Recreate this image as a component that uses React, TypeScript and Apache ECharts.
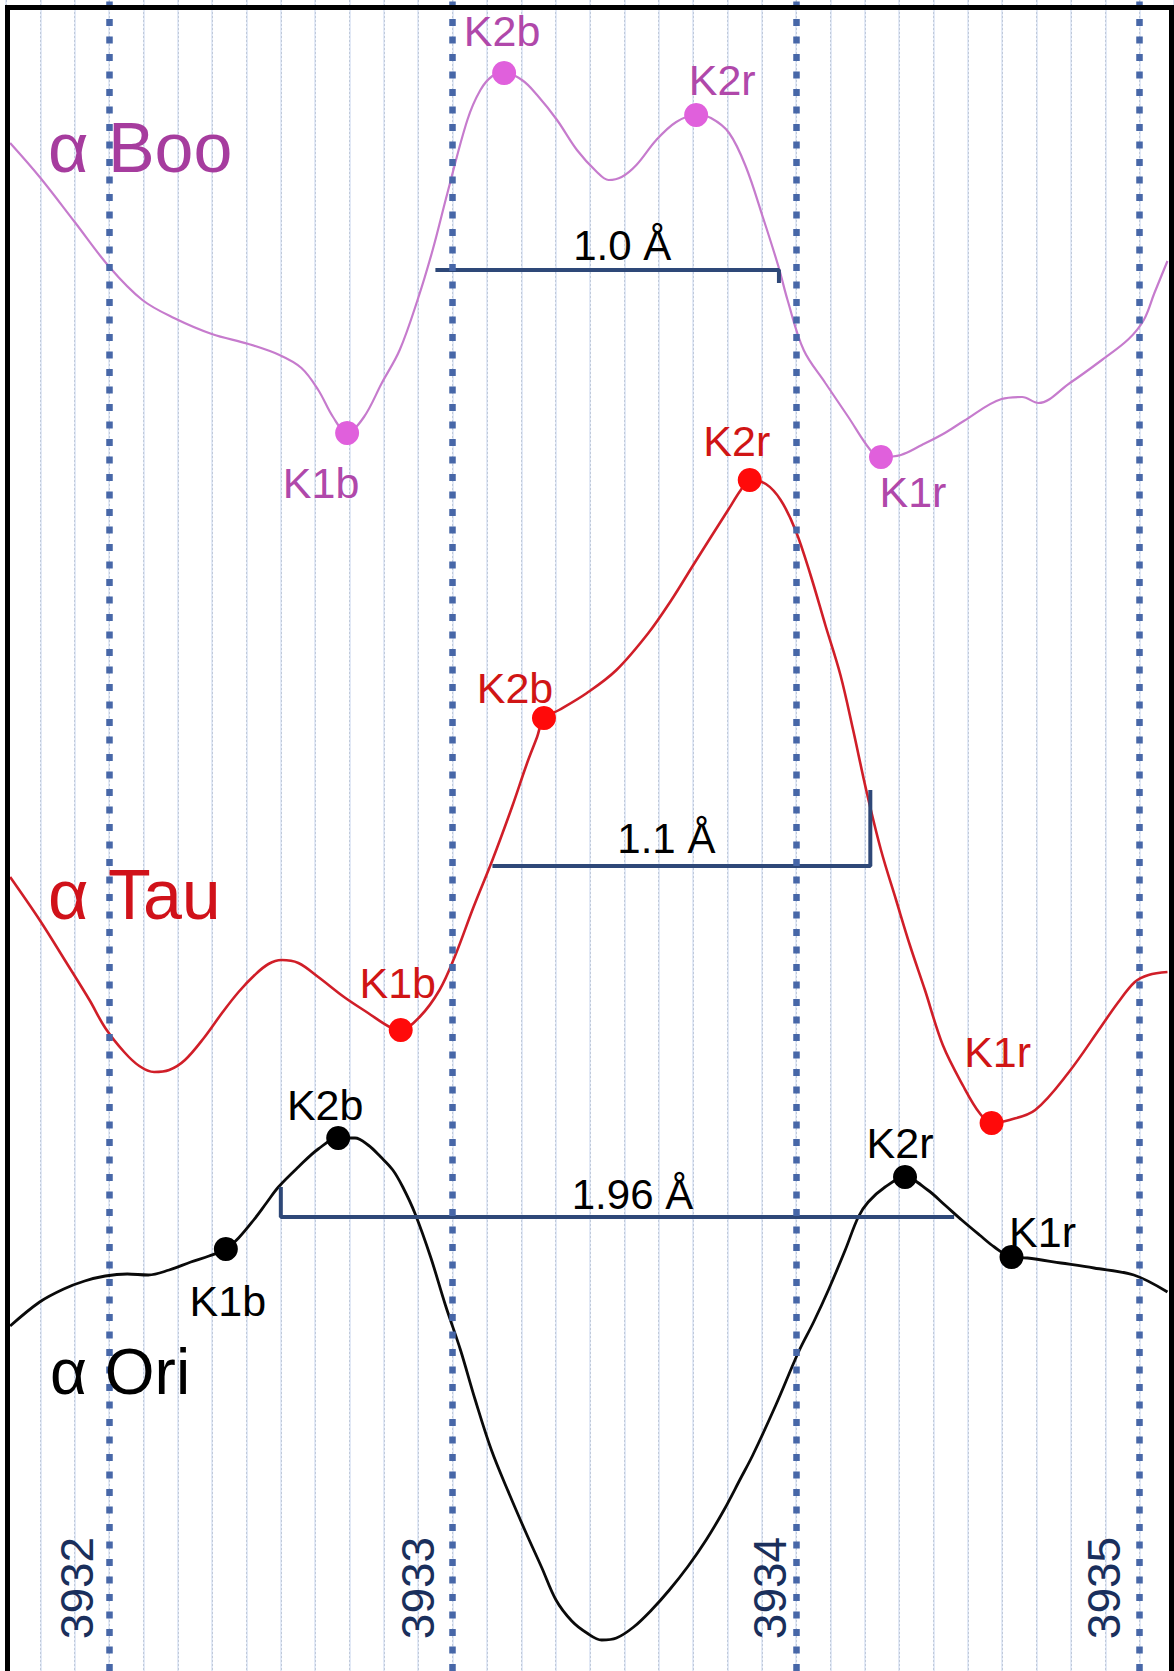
import { useEffect, useRef } from 'react';
import * as echarts from 'echarts';

// ---- Wavelength axis (Å) ----
const LAMBDA_MIN = 3931.7;
const LAMBDA_MAX = 3935.1;
const wavelengthTicks = [3932, 3933, 3934, 3935];
const TICK_LABEL_LEVEL = 8.3;

// ---- Ca II K profiles, relative flux (arbitrary units, stacked with offsets) ----
const booProfile: [number, number][] = [
  [3931.712, 152.8], [3931.798, 149.4], [3931.9, 144.9], [3932.001, 140.4], [3932.097, 137.1],
  [3932.189, 135.3], [3932.299, 133.7], [3932.406, 132.7], [3932.496, 131.6], [3932.56, 130.3],
  [3932.609, 128.1], [3932.652, 125.4], [3932.742, 125.4], [3932.794, 128.8], [3932.846, 132.1],
  [3932.898, 137.1], [3932.942, 142.1], [3932.985, 147.8], [3933.043, 155.1], [3933.081, 158.1],
  [3933.116, 159.5], [3933.202, 159.1], [3933.246, 157.6], [3933.304, 155.1], [3933.362, 152.1],
  [3933.42, 149.9], [3933.454, 149.1], [3933.492, 149.4], [3933.535, 150.6], [3933.593, 153.1],
  [3933.651, 154.9], [3933.752, 155.3], [3933.805, 153.8], [3933.854, 150.4], [3933.903, 145.4],
  [3933.949, 140.4], [3933.975, 137.1], [3934.022, 132.1], [3934.085, 128.8], [3934.152, 125.4],
  [3934.216, 122.1], [3934.305, 121.6], [3934.366, 122.6], [3934.433, 123.8], [3934.488, 125.0],
  [3934.598, 127.2], [3934.658, 127.4], [3934.705, 126.8], [3934.797, 128.8], [3934.89, 131.1],
  [3934.968, 133.2], [3935.012, 135.1], [3935.043, 137.8], [3935.081, 141.0],
];

const tauProfile: [number, number][] = [
  [3931.712, 79.4], [3931.798, 75.1], [3931.871, 71.1], [3931.943, 67.1], [3931.989, 64.3],
  [3932.044, 61.9], [3932.088, 60.5], [3932.131, 59.9], [3932.175, 60.1], [3932.221, 61.1],
  [3932.276, 63.3], [3932.331, 65.9], [3932.377, 67.9], [3932.424, 69.6], [3932.464, 70.7],
  [3932.502, 71.1], [3932.551, 70.8], [3932.609, 69.4], [3932.684, 67.4], [3932.754, 65.8],
  [3932.817, 64.4], [3932.904, 65.4], [3932.962, 68.1], [3933.006, 71.4], [3933.061, 76.4],
  [3933.116, 81.1], [3933.173, 86.4], [3933.217, 90.8], [3933.246, 93.4], [3933.31, 96.1],
  [3933.391, 97.8], [3933.477, 100.1], [3933.57, 103.8], [3933.637, 107.1], [3933.697, 110.4],
  [3933.752, 113.4], [3933.802, 116.1], [3933.839, 118.1], [3933.912, 118.7], [3933.955, 117.1],
  [3933.998, 114.1], [3934.042, 109.6], [3934.085, 104.6], [3934.129, 99.6], [3934.166, 94.1],
  [3934.204, 88.1], [3934.247, 82.1], [3934.291, 77.1], [3934.331, 72.6], [3934.375, 68.1],
  [3934.427, 62.6], [3934.488, 58.4], [3934.534, 55.8], [3934.621, 55.1], [3934.696, 56.1],
  [3934.792, 59.8], [3934.887, 64.4], [3934.936, 66.8], [3934.986, 68.9], [3935.026, 69.6],
  [3935.081, 69.9],
];

const oriProfile: [number, number][] = [
  [3931.712, 34.5], [3931.798, 36.9], [3931.868, 38.2], [3931.929, 39.0], [3931.989, 39.5],
  [3932.053, 39.7], [3932.114, 39.6], [3932.175, 40.1], [3932.238, 40.9], [3932.291, 41.5],
  [3932.377, 43.3], [3932.421, 45.1], [3932.458, 46.8], [3932.493, 48.4], [3932.551, 50.4],
  [3932.609, 52.2], [3932.716, 53.3], [3932.754, 52.6], [3932.791, 51.4], [3932.826, 50.1],
  [3932.855, 48.4], [3932.89, 45.8], [3932.936, 41.4], [3932.979, 36.6], [3933.023, 32.1],
  [3933.066, 27.1], [3933.113, 22.1], [3933.165, 17.7], [3933.214, 13.8], [3933.26, 10.3],
  [3933.301, 7.1], [3933.347, 5.0], [3933.391, 3.8], [3933.434, 3.1], [3933.477, 3.3],
  [3933.527, 4.4], [3933.579, 6.1], [3933.631, 8.1], [3933.686, 10.5], [3933.738, 13.1],
  [3933.79, 16.1], [3933.839, 19.3], [3933.874, 21.6], [3933.941, 26.6], [3934.007, 31.9],
  [3934.051, 34.9], [3934.094, 38.1], [3934.143, 42.1], [3934.181, 45.4], [3934.21, 46.9],
  [3934.259, 48.4], [3934.383, 48.1], [3934.433, 46.6], [3934.482, 45.1], [3934.534, 43.6],
  [3934.577, 42.4], [3934.673, 41.3], [3934.771, 40.8], [3934.867, 40.3], [3934.983, 39.6],
  [3935.081, 37.9],
];

// ---- K1 / K2 features: [name, wavelength, flux] ----
const booFeatures: [string, number, number][] = [
  ['K1b', 3932.693, 123.8], ['K2b', 3933.15, 159.8], ['K2r', 3933.709, 155.6], ['K1r', 3934.247, 121.4],
];
const tauFeatures: [string, number, number][] = [
  ['K1b', 3932.849, 64.1], ['K2b', 3933.266, 95.3], ['K2r', 3933.865, 119.1], ['K1r', 3934.569, 54.8],
];
const oriFeatures: [string, number, number][] = [
  ['K1b', 3932.34, 42.2], ['K2b', 3932.667, 53.3], ['K2r', 3934.317, 49.4], ['K1r', 3934.627, 41.4],
];

// ---- Measured separations (Å) ----
const booSeparation = { start: 3932.95, width: 1.0, level: 140.1, tickAt: 'end', tickTo: 138.8, digits: 1 };
const tauSeparation = { start: 3933.116, width: 1.1, level: 80.5, tickAt: 'end', tickTo: 88.1, digits: 1 };
const oriSeparation = { start: 3932.5, width: 1.96, level: 45.4, tickAt: 'start', tickTo: 48.4, digits: 2 };

// ---- Styling ----
const FONT = "'Liberation Sans', Arial, sans-serif";

// horizontal shift (px) of each rotated wavelength label, left of its guide line
const tickLabelShift = [-32, -35, -26, -36];

const labelOffsets: Record<string, Record<string, [number, number]>> = {
  boo: { K1b: [-26, 50], K2b: [-2, -42], K2r: [26, -35], K1r: [32, 35] },
  tau: { K1b: [-3, -47], K2b: [-29, -30], K2r: [-13, -39], K1r: [6, -71] },
  ori: { K1b: [2, 52], K2b: [-13, -33], K2r: [-5, -34], K1r: [31, -25] },
};

const starStyles = {
  boo: { title: 'α Boo', line: '#C67BCD', lineWidth: 2.2, dot: '#E060DC', text: '#B048AA', titleColor: '#A63C9E', titleX: 48, titleY: 148, titleSize: 70 },
  tau: { title: 'α Tau', line: '#D01E28', lineWidth: 2.6, dot: '#FF0A0A', text: '#D01515', titleColor: '#D0121A', titleX: 48, titleY: 895, titleSize: 70 },
  ori: { title: 'α Ori', line: '#0A0A0A', lineWidth: 2.8, dot: '#000000', text: '#000000', titleColor: '#000000', titleX: 50, titleY: 1372, titleSize: 64 },
};

const separationLabelOffsets: Record<string, [number, number]> = {
  boo: [15, -25],
  tau: [-15, -28],
  ori: [15, -23],
};

type Sep = typeof booSeparation;

const stars = [
  { key: 'boo', profile: booProfile, features: booFeatures, sep: booSeparation as Sep },
  { key: 'tau', profile: tauProfile, features: tauFeatures, sep: tauSeparation as Sep },
  { key: 'ori', profile: oriProfile, features: oriFeatures, sep: oriSeparation as Sep },
];

function mergeProfile(profile: [number, number][], features: [string, number, number][]) {
  const pts: [number, number][] = [...profile, ...features.map((f) => [f[1], f[2]] as [number, number])];
  return pts.sort((a, b) => a[0] - b[0]);
}

function bracketPoints(sep: Sep): [number, number][] {
  const end = +(sep.start + sep.width).toFixed(3);
  if (sep.tickAt === 'start') {
    return [[sep.start, sep.tickTo], [sep.start, sep.level], [end, sep.level]];
  }
  return [[sep.start, sep.level], [end, sep.level], [end, sep.tickTo]];
}

function buildOption() {
  const series: any[] = [];

  // Wavelength labels and integer-Å guide lines
  series.push({
    type: 'scatter',
    z: 1,
    silent: true,
    symbol: 'circle',
    symbolSize: 1,
    itemStyle: { color: 'rgba(0,0,0,0)', opacity: 1 },
    // label offsets are given in the rotated frame: [along text, across text]
    data: wavelengthTicks.map((t, i) => ({ value: [t, TICK_LABEL_LEVEL], label: { offset: [0, tickLabelShift[i]] } })),
    label: {
      show: true,
      position: 'inside',
      rotate: 90,
      align: 'center',
      verticalAlign: 'middle',
      formatter: (p: any) => String(p.value[0]),
      fontSize: 46,
      fontFamily: FONT,
      color: '#1A2F5C',
      opacity: 1,
    },
    markLine: {
      silent: true,
      symbol: ['none', 'none'],
      label: { show: false },
      lineStyle: { color: '#4767A8', width: 6.5, type: [7, 10.5], opacity: 1 },
      data: wavelengthTicks.map((t) => ({ xAxis: t })),
    },
  });

  stars.forEach((s) => {
    const st = (starStyles as any)[s.key];
    series.push({
      type: 'line',
      name: st.title,
      z: 3,
      silent: true,
      smooth: 0.35,
      symbol: 'none',
      lineStyle: { color: st.line, width: st.lineWidth, opacity: 1 },
      data: mergeProfile(s.profile, s.features),
    });

    series.push({
      type: 'line',
      z: 4,
      silent: true,
      symbol: 'none',
      lineStyle: { color: '#2E4878', width: 4, opacity: 1 },
      data: bracketPoints(s.sep),
    });

    series.push({
      type: 'scatter',
      z: 4,
      silent: true,
      symbol: 'circle',
      symbolSize: 1,
      itemStyle: { color: 'rgba(0,0,0,0)', opacity: 1 },
      data: [
        {
          value: [+(s.sep.start + s.sep.width / 2).toFixed(3), s.sep.level],
          label: { formatter: `${s.sep.width.toFixed(s.sep.digits)} Å`, offset: separationLabelOffsets[s.key] },
        },
      ],
      label: {
        show: true,
        position: 'inside',
        align: 'center',
        verticalAlign: 'middle',
        fontSize: 42,
        fontFamily: FONT,
        color: '#000000',
        opacity: 1,
      },
    });

    series.push({
      type: 'scatter',
      z: 5,
      silent: true,
      symbol: 'circle',
      symbolSize: 24,
      itemStyle: { color: st.dot, opacity: 1 },
      data: s.features.map((f) => ({
        name: f[0],
        value: [f[1], f[2]],
        label: { offset: labelOffsets[s.key][f[0]] },
      })),
      label: {
        show: true,
        position: 'inside',
        align: 'center',
        verticalAlign: 'middle',
        formatter: '{b}',
        fontSize: 43,
        fontFamily: FONT,
        color: st.text,
        opacity: 1,
      },
    });
  });

  const graphic: any[] = stars.map((s) => {
    const st = (starStyles as any)[s.key];
    return {
      type: 'text',
      z: 50,
      x: st.titleX,
      y: st.titleY,
      style: {
        text: st.title,
        fill: st.titleColor,
        fontSize: st.titleSize,
        fontFamily: FONT,
        align: 'left',
        verticalAlign: 'middle',
      },
    };
  });
  graphic.push({
    type: 'rect',
    z: 100,
    silent: true,
    shape: { x: 7.5, y: 7.5, width: 1164, height: 1700 },
    style: { fill: 'none', stroke: '#000000', lineWidth: 5 },
  });

  const axisBase = {
    type: 'value',
    min: LAMBDA_MIN,
    max: LAMBDA_MAX,
    interval: 0.1,
    axisLine: { show: false },
    axisTick: { show: false },
    axisLabel: { show: false },
  };

  return {
    animation: false,
    backgroundColor: '#ffffff',
    grid: { left: 6, top: 0, width: 1174.5, height: 1671, containLabel: false },
    xAxis: [
      // 0.1 Å dotted rulings
      { ...axisBase, splitLine: { show: true, lineStyle: { color: '#79828F', width: 1, type: [2, 2] } } },
      // faint blue underlay of the rulings
      { ...axisBase, position: 'top', splitLine: { show: true, lineStyle: { color: '#D9E2F3', width: 1.5, type: 'solid' } } },
    ],
    yAxis: { type: 'value', min: 0, max: 167.1, show: false },
    series,
    graphic,
  };
}

export default function App() {
  const ref = useRef<HTMLDivElement>(null);
  useEffect(() => {
    if (!ref.current) return;
    const chart = echarts.init(ref.current, null, { renderer: 'svg' });
    chart.setOption(buildOption() as any);
    return () => chart.dispose();
  }, []);
  return (
    <div
      ref={ref}
      style={{ position: 'absolute', left: 0, top: 0, width: 1174, height: 1671, background: '#ffffff', overflow: 'hidden' }}
    />
  );
}
